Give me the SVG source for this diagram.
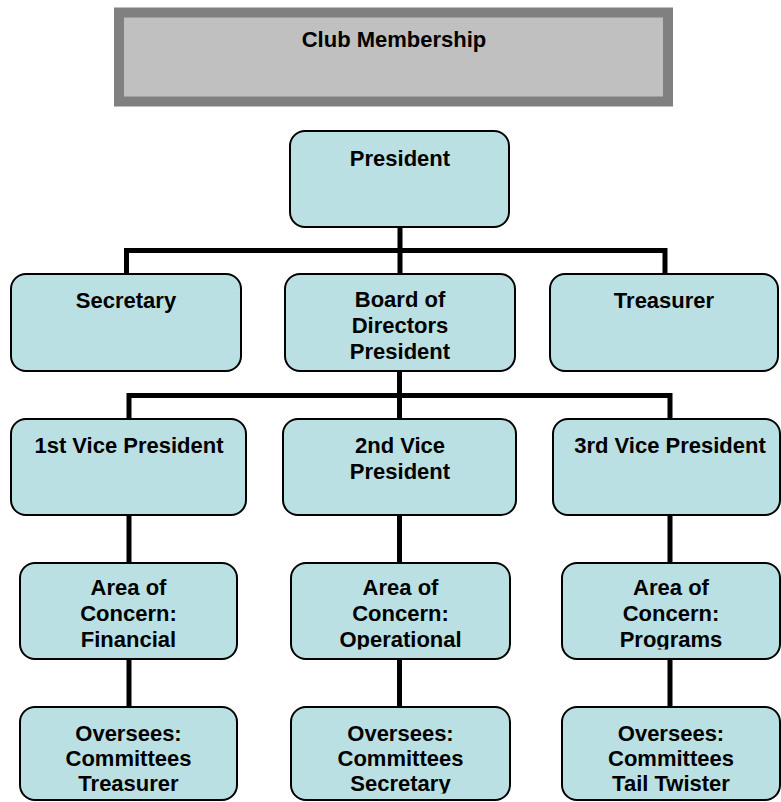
<svg xmlns="http://www.w3.org/2000/svg" width="781" height="802" viewBox="0 0 781 802">
<style>
.box{fill:#BBE0E3;stroke:#000;stroke-width:2}
.t{font-family:"Liberation Sans",Arial,sans-serif;font-weight:bold;font-size:22px;fill:#000;text-anchor:middle}
.c{stroke:#000;stroke-width:5;fill:none;stroke-linecap:butt}
</style>
<defs>
<clipPath id="clip4"><rect x="0" y="555" width="781" height="94.5"/></clipPath>
<clipPath id="clip5"><rect x="0" y="700" width="781" height="93.5"/></clipPath>
</defs>
<rect width="781" height="802" fill="#fff"/>
<g id="title">
<rect x="119" y="12.5" width="549" height="89" fill="#C0C0C0" stroke="#808080" stroke-width="10"/>
<text class="t" x="394" y="47">Club Membership</text>
</g>
<g id="connectors">
<path class="c" d="M400 227V274M126.5 250.5H665M126.5 248V274M665 248V274"/>
<path class="c" d="M399.5 371V419M129 395.5H670M129 393V419M670 393V419"/>
<path class="c" d="M129 515V563M399.5 515V563M670 515V563"/>
<path class="c" d="M129 659V707M399.5 659V707M670 659V707"/>
</g>
<g id="president">
<rect class="box" x="290" y="131" width="219" height="96" rx="15"/>
<text class="t" x="400" y="166">President</text>
</g>
<g id="secretary">
<rect class="box" x="11" y="274" width="230" height="97" rx="15"/>
<text class="t" x="126" y="308">Secretary</text>
</g>
<g id="board">
<rect class="box" x="285" y="274" width="230" height="97" rx="15"/>
<text class="t" x="400" y="307">Board of</text>
<text class="t" x="400" y="333">Directors</text>
<text class="t" x="400" y="359">President</text>
</g>
<g id="treasurer">
<rect class="box" x="550" y="274" width="228" height="97" rx="15"/>
<text class="t" x="664" y="308">Treasurer</text>
</g>
<g id="vp1">
<rect class="box" x="11" y="419" width="235" height="96" rx="15"/>
<text class="t" x="129" y="453">1st Vice President</text>
</g>
<g id="vp2">
<rect class="box" x="283" y="419" width="233" height="96" rx="15"/>
<text class="t" x="400" y="453">2nd Vice</text>
<text class="t" x="400" y="479">President</text>
</g>
<g id="vp3">
<rect class="box" x="553" y="419" width="227" height="96" rx="15"/>
<text class="t" x="670" y="453">3rd Vice President</text>
</g>
<g id="area1">
<rect class="box" x="20" y="563" width="217" height="96" rx="15"/>
<g clip-path="url(#clip4)">
<text class="t" x="128.5" y="595">Area of</text>
<text class="t" x="128.5" y="621">Concern:</text>
<text class="t" x="128.5" y="647">Financial</text>
</g>
</g>
<g id="area2">
<rect class="box" x="291" y="563" width="219" height="96" rx="15"/>
<g clip-path="url(#clip4)">
<text class="t" x="400.5" y="595">Area of</text>
<text class="t" x="400.5" y="621">Concern:</text>
<text class="t" x="400.5" y="647">Operational</text>
</g>
</g>
<g id="area3">
<rect class="box" x="562" y="563" width="218" height="96" rx="15"/>
<g clip-path="url(#clip4)">
<text class="t" x="671" y="595">Area of</text>
<text class="t" x="671" y="621">Concern:</text>
<text class="t" x="671" y="647">Programs</text>
</g>
</g>
<g id="oversee1">
<rect class="box" x="20" y="707" width="217" height="93" rx="15"/>
<g clip-path="url(#clip5)">
<text class="t" x="128.5" y="741">Oversees:</text>
<text class="t" x="128.5" y="766">Committees</text>
<text class="t" x="128.5" y="791">Treasurer</text>
</g>
</g>
<g id="oversee2">
<rect class="box" x="291" y="707" width="219" height="93" rx="15"/>
<g clip-path="url(#clip5)">
<text class="t" x="400.5" y="741">Oversees:</text>
<text class="t" x="400.5" y="766">Committees</text>
<text class="t" x="400.5" y="791">Secretary</text>
</g>
</g>
<g id="oversee3">
<rect class="box" x="562" y="707" width="218" height="93" rx="15"/>
<g clip-path="url(#clip5)">
<text class="t" x="671" y="741">Oversees:</text>
<text class="t" x="671" y="766">Committees</text>
<text class="t" x="671" y="791">Tail Twister</text>
</g>
</g>
</svg>
